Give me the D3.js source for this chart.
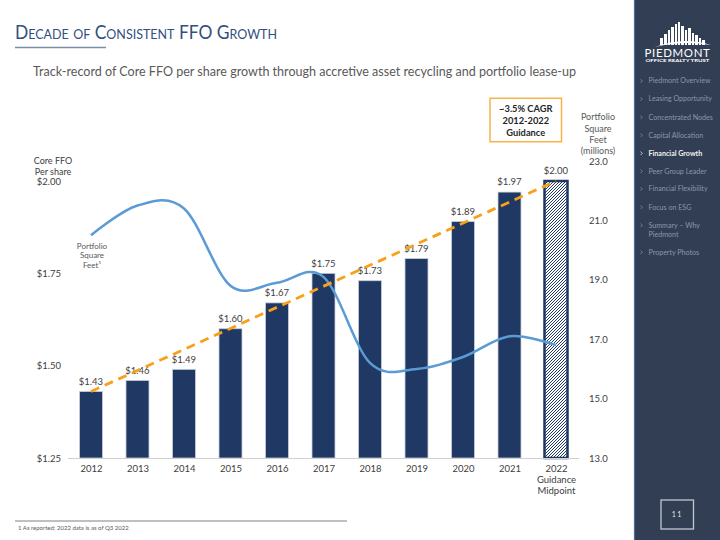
<!DOCTYPE html>
<html><head><meta charset="utf-8">
<script src="https://cdn.jsdelivr.net/npm/d3@7"></script>
<style>
html,body{margin:0;padding:0;background:#fff;}
svg{display:block;font-family:Lato,"Open Sans",sans-serif;}
</style></head>
<body>
<script>
// ---------- data ----------
const years = ["2012","2013","2014","2015","2016","2017","2018","2019","2020","2021","2022"];
const ffo = [1.43,1.46,1.49,1.60,1.67,1.75,1.73,1.79,1.89,1.97,2.00];
const sqft = [20.5,21.5,21.4,18.8,18.9,19.1,16.2,16.0,16.4,17.1,16.8];
const trendYears = ["2012","2022"];
const trendValues = [1.43,2.00];
const leftTicks = [1.25,1.50,1.75,2.00];
const rightTicks = [13,15,17,19,21,23];
const yearSubLabels = {"2022":["Guidance","Midpoint"]};
const navItems = [["Piedmont Overview"],["Leasing Opportunity"],["Concentrated Nodes"],["Capital Allocation"],["Financial Growth"],["Peer Group Leader"],["Financial Flexibility"],["Focus on ESG"],["Summary \u2013 Why","Piedmont"],["Property Photos"]];
const activeNav = "Financial Growth";

// ---------- layout ----------
const W=720,H=540;
const svg=d3.select("body").append("svg").attr("width",W).attr("height",H);
const navy="#203864", txt="#404040", grayTxt="#595959";

const defs=svg.append("defs");
const pat=defs.append("pattern").attr("id","hatch").attr("patternUnits","userSpaceOnUse")
  .attr("width",3).attr("height",3);
pat.append("rect").attr("width",3).attr("height",3).attr("fill","#fff");
pat.append("path").attr("d","M-1,1 l2,-2 M0,3 l3,-3 M2,4 l2,-2").attr("stroke",navy).attr("stroke-width",1);

const x=d3.scalePoint().domain(years).range([91,556]);
const barW=23;
const yL=d3.scaleLinear().domain([1.25,2.00]).range([458,181]);
const yR=d3.scaleLinear().domain([13,23]).range([458,161]);

// title (small caps)
svg.append("text").attr("x",15).attr("y",39).attr("fill","#32507F")
  .attr("font-size",19.5).style("font-variant","small-caps")
  .attr("textLength",262).attr("lengthAdjust","spacingAndGlyphs")
  .text("Decade of Consistent FFO Growth");
svg.append("line").attr("x1",15).attr("x2",106).attr("y1",47.5).attr("y2",47.5)
  .attr("stroke","#7D8CA8").attr("stroke-width",1.5);

svg.append("text").attr("x",33).attr("y",76).attr("font-size",14.3).attr("fill",grayTxt)
  .attr("textLength",543).attr("lengthAdjust","spacingAndGlyphs")
  .text("Track-record of Core FFO per share growth through accretive asset recycling and portfolio lease-up");

// bars
const g=svg.append("g");
g.selectAll("rect.bar").data(years).join("rect").attr("class","bar")
  .attr("x",d=>x(d)-barW/2).attr("width",barW)
  .attr("y",(d,i)=>yL(ffo[i])).attr("height",(d,i)=>yL(1.25)-yL(ffo[i]))
  .attr("fill",(d,i)=>i===years.length-1?"url(#hatch)":navy)
  .attr("stroke",(d,i)=>i===years.length-1?navy:"#C9CFDA")
  .attr("stroke-width",(d,i)=>i===years.length-1?2.5:0.8);

// baseline axis line
svg.append("line").attr("x1",68).attr("x2",579).attr("y1",458.5).attr("y2",458.5)
  .attr("stroke","#D0D0D0").attr("stroke-width",1);

// value labels
g.selectAll("text.val").data(years).join("text").attr("class","val")
  .attr("x",d=>x(d)).attr("y",(d,i)=>yL(ffo[i])-10).attr("dy","0.35em")
  .attr("text-anchor","middle").attr("font-size",9.5).attr("fill",txt)
  .text((d,i)=>"$"+d3.format(".2f")(ffo[i]));

// square feet smoothed line
svg.append("path").datum(years).attr("fill","none").attr("stroke","#5B9BD5").attr("stroke-width",2.5)
  .attr("d",d3.line().x(d=>x(d)).y((d,i)=>yR(sqft[i])).curve(d3.curveCatmullRom.alpha(0)));

// trend dashed
svg.append("path").datum(trendYears).attr("fill","none").attr("stroke","#F7A11A").attr("stroke-width",2.8)
  .attr("stroke-dasharray","9,6")
  .attr("d",d3.line().x(d=>x(d)).y((d,i)=>yL(trendValues[i])));

// x axis
const xa=svg.append("g").attr("transform","translate(0,465)")
  .call(d3.axisBottom(x).tickSize(0).tickPadding(0));
xa.select(".domain").remove();
xa.selectAll("text").attr("font-size",9.5).attr("fill",txt).attr("font-family","Lato").attr("dy","0.71em")
  .each(function(d){const s=yearSubLabels[d]; if(!s)return; const t=d3.select(this);
    s.forEach(l=>t.append("tspan").attr("x",0).attr("dy","1.15em").text(l));});

// left axis
const la=svg.append("g").attr("transform","translate(61,0)")
  .call(d3.axisLeft(yL).tickValues(leftTicks).tickSize(0).tickPadding(0).tickFormat(d=>"$"+d3.format(".2f")(d)));
la.select(".domain").remove();
la.selectAll("text").attr("font-size",9.5).attr("fill",txt).attr("font-family","Lato");
svg.append("text").attr("x",53).attr("y",160.5).attr("dy","0.35em").attr("text-anchor","middle")
  .attr("font-size",9).attr("fill",txt).text("Core FFO");
svg.append("text").attr("x",53).attr("y",171.5).attr("dy","0.35em").attr("text-anchor","middle")
  .attr("font-size",9).attr("fill",txt).text("Per share");

// right axis
const ra=svg.append("g").attr("transform","translate(589,0)")
  .call(d3.axisRight(yR).tickValues(rightTicks).tickSize(0).tickPadding(0).tickFormat(d3.format(".1f")));
ra.select(".domain").remove();
ra.selectAll("text").attr("font-size",9.5).attr("fill",txt).attr("font-family","Lato");
["Portfolio","Square","Feet","(millions)"].forEach((t,i)=>svg.append("text").attr("x",598).attr("y",117.3+i*11.2)
  .attr("dy","0.35em").attr("text-anchor","middle").attr("font-size",9).attr("fill",grayTxt).text(t));

// series label
const sl=svg.append("text").attr("x",92).attr("text-anchor","middle").attr("font-size",8).attr("fill",grayTxt);
sl.append("tspan").attr("x",92).attr("y",245.7).attr("dy","0.35em").text("Portfolio");
sl.append("tspan").attr("x",92).attr("y",255.5).attr("dy","0.35em").text("Square");
sl.append("tspan").attr("x",92).attr("y",265.2).attr("dy","0.35em").text("Feet\u00B9");

// CAGR box
svg.append("rect").attr("x",490).attr("y",98.3).attr("width",71.5).attr("height",43.4)
  .attr("fill","#fff").attr("stroke","#F8B24A").attr("stroke-width",1.5);
["~3.5% CAGR","2012-2022","Guidance"].forEach((t,i)=>svg.append("text").attr("x",525.8).attr("y",108.5+i*12)
  .attr("dy","0.35em").attr("text-anchor","middle").attr("font-size",9.3).attr("font-weight","bold").attr("fill","#262626").text(t));

// footnote
svg.append("line").attr("x1",15).attr("x2",347).attr("y1",521).attr("y2",521).attr("stroke","#808080").attr("stroke-width",1);
svg.append("text").attr("x",18).attr("y",527.8).attr("dy","0.35em").attr("font-size",6).attr("fill",grayTxt)
  .text("1 As reported; 2022 data is as of Q3 2022");

// ---------- sidebar ----------
svg.append("rect").attr("x",634).attr("y",0).attr("width",86).attr("height",H).attr("fill","#323E54");
svg.append("line").attr("x1",634.5).attr("x2",634.5).attr("y1",0).attr("y2",H).attr("stroke","#4C6A9A").attr("stroke-width",1.2);

// logo (decorative skyline)
const logo=svg.append("g").attr("fill","#fff");
const bld=[[660,38,3,7],[664,34,3,11],[668,30,2,15],[671,27,3,18],[675,24,2,21],[678,22,2,23],[681,26,3,19],[685,30,2,15],[688,28,3,17],[692,33,2,12],[695,35,3,10],[699,38,2,7],[702,40,3,5]];
bld.forEach(b=>logo.append("rect").attr("x",b[0]).attr("y",b[1]).attr("width",b[2]).attr("height",b[3]));
logo.append("path").attr("d","M655,47 Q683,36 711,45 Q683,40 655,47 Z").attr("fill","#fff");
svg.append("text").attr("x",677.5).attr("y",56.5).attr("text-anchor","middle").attr("font-size",10.5)
  .attr("fill","#fff").attr("letter-spacing",0.6).attr("textLength",66).attr("lengthAdjust","spacingAndGlyphs").text("PIEDMONT");
svg.append("text").attr("x",677.5).attr("y",61.8).attr("text-anchor","middle").attr("font-size",3.4).attr("font-weight","bold")
  .attr("fill","#fff").attr("textLength",64).attr("lengthAdjust","spacingAndGlyphs").text("OFFICE REALTY TRUST");

const navY=[81,99,117.3,135.3,153.3,171.3,189,207.3,225.3,252.3];
navItems.forEach((lines,i)=>{
  const active=lines[0]===activeNav;
  const col=active?"#F2F2F2":"#8C96A8";
  svg.append("path").attr("d",`M640.5,${navY[i]-1.8} L642.3,${navY[i]} L640.5,${navY[i]+1.8}`)
    .attr("fill","none").attr("stroke",col).attr("stroke-width",0.7);
  lines.forEach((l,j)=>svg.append("text").attr("x",648.5).attr("y",navY[i]+j*8.8).attr("dy","0.35em")
    .attr("font-size",7.1).attr("fill",col).attr("font-weight",active?"bold":"normal").text(l));
});

// page number
svg.append("rect").attr("x",661).attr("y",500).attr("width",32.5).attr("height",29).attr("fill","none")
  .attr("stroke","#C3C7CF").attr("stroke-width",1.3);
svg.append("text").attr("x",677.3).attr("y",515).attr("dy","0.35em").attr("text-anchor","middle")
  .attr("font-size",7).attr("fill","#E6E6E6").attr("letter-spacing",1.5).text("11");
</script>
</body></html>
